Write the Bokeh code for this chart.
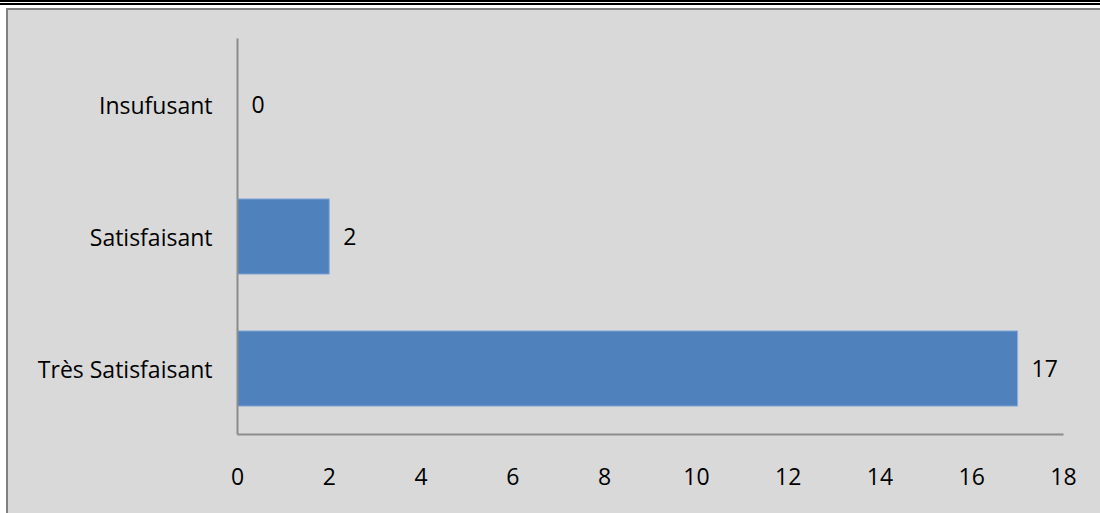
from bokeh.plotting import figure
from bokeh.models import ColumnDataSource, FixedTicker, Div, Spacer
from bokeh.layouts import column, row
from bokeh.embed import file_html
from bokeh.resources import INLINE
from bokeh.core.properties import value

categories = ["Très Satisfaisant", "Satisfaisant", "Insufusant"]
counts = [17, 2, 0]
x_ticks = [0, 2, 4, 6, 8, 10, 12, 14, 16, 18]

FONT = "Open Sans"
FS = "23px"
BG = "#d9d9d9"

src = ColumnDataSource(dict(cat=categories, n=counts, lbl=[str(c) for c in counts]))

p = figure(y_range=categories, x_range=(0, 18), width=1092, height=503,
           output_backend="svg", toolbar_location=None,
           min_border_left=229, min_border_right=37, min_border_top=28, min_border_bottom=79,
           styles={"background-color": BG})
p.background_fill_alpha = 0
p.border_fill_alpha = 0
p.outline_line_color = None
p.grid.grid_line_color = None

p.hbar(y="cat", right="n", left=0, height=0.57, source=src,
       fill_color="#4f81bd", line_color="#8eaedb", line_width=1)
p.text(x="n", y="cat", text="lbl", source=src, x_offset=14,
       text_align="left", text_baseline="middle",
       text_font=value(FONT), text_font_size=FS, text_color="#000000")

p.xaxis.ticker = FixedTicker(ticks=x_ticks)
for ax in (p.xaxis[0], p.yaxis[0]):
    ax.axis_line_color = "#8c8c8c"
    ax.axis_line_width = 2
    ax.major_tick_line_color = None
    ax.minor_tick_line_color = None
    ax.major_label_text_font = FONT
    ax.major_label_text_font_size = FS
    ax.major_label_text_color = "#000000"
p.xaxis.major_label_standoff = 27
p.yaxis.major_label_standoff = 19


def bar(w, h, color):
    return Div(text="", width=w, height=h, margin=0,
               styles={"background-color": color})


top = column(bar(1100, 2, "#000000"), bar(1100, 1, "#ffffff"),
             bar(1100, 2, "#000000"), bar(1100, 3, "#ffffff"), spacing=0)

layout = column(top,
                row(Spacer(width=6, height=505, margin=0),
                    column(bar(1094, 2, "#808080"),
                           row(bar(2, 503, "#808080"), p, spacing=0),
                           spacing=0),
                    spacing=0),
                spacing=0)

with open("out.html", "w") as f:
    f.write(file_html(layout, INLINE))
